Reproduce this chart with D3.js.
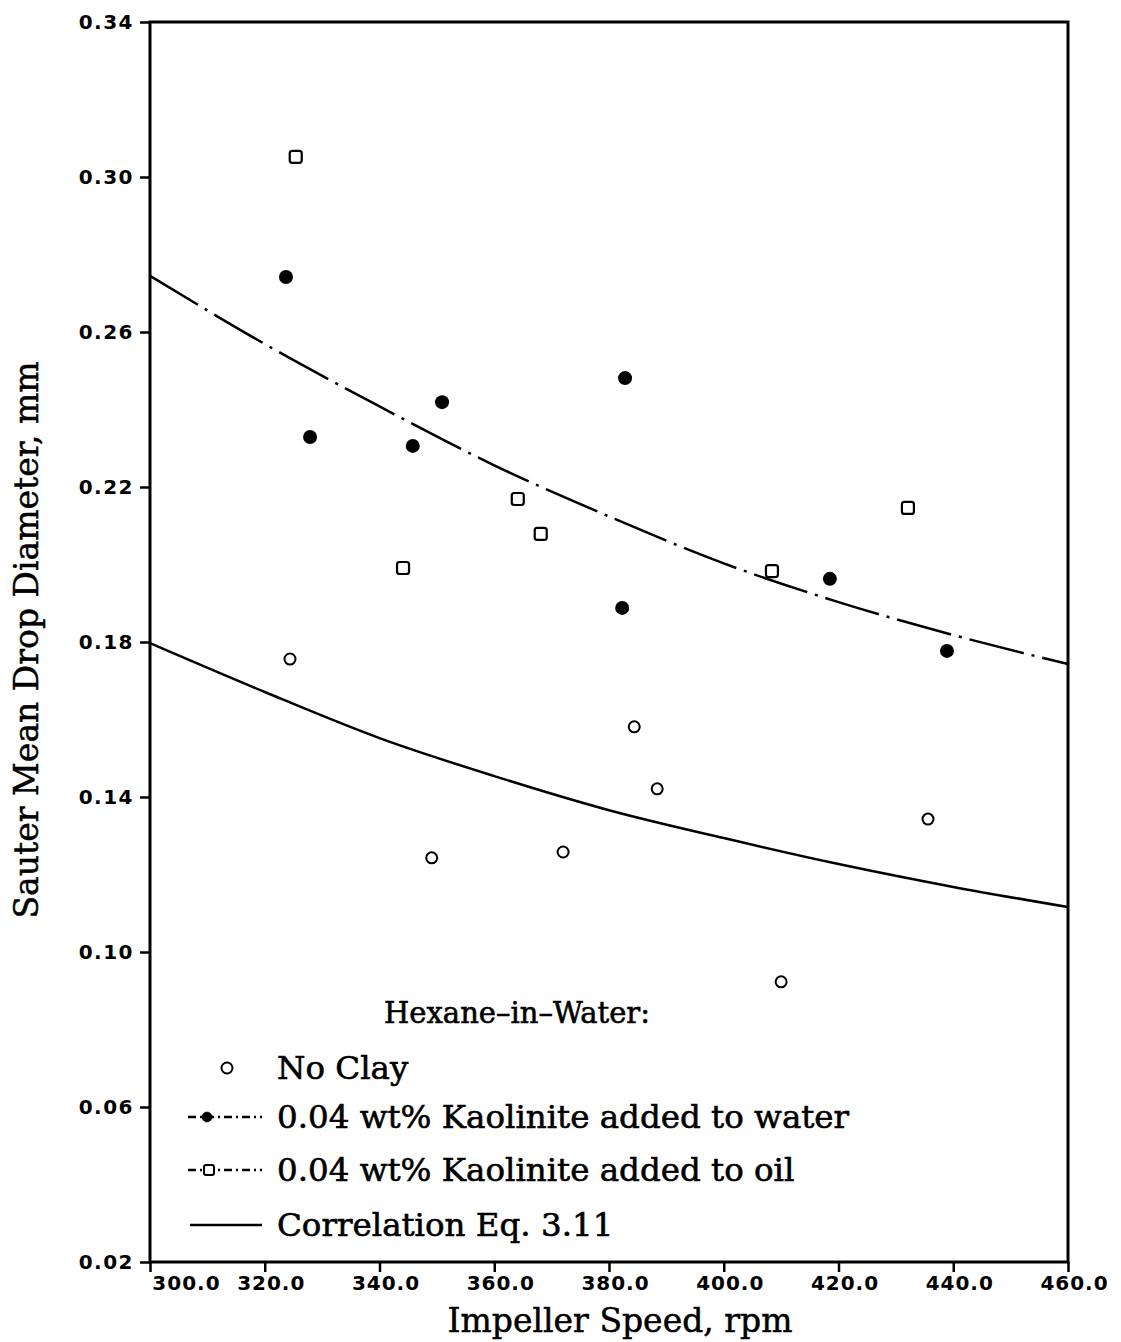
<!DOCTYPE html>
<html>
<head>
<meta charset="utf-8">
<script src="https://cdn.jsdelivr.net/npm/d3@7"></script>
<style>
  body { margin: 0; background: #fff; }
</style>
</head>
<body>
<div id="chart"></div>
<script>
// Values
const noClayRpm  = [324.4, 349.1, 372.0, 384.4, 388.4, 410.0, 435.6];
const noClayDiam = [0.1756, 0.1243, 0.1258, 0.1581, 0.1421, 0.0923, 0.1343];

const waterRpm  = [323.7, 327.9, 345.8, 350.9, 382.8, 382.3, 418.5, 438.9];
const waterDiam = [0.2742, 0.2329, 0.2306, 0.2419, 0.2481, 0.1888, 0.1963, 0.1777];

const oilRpm  = [325.4, 344.1, 364.1, 368.1, 408.4, 432.1];
const oilDiam = [0.3052, 0.1991, 0.2169, 0.2079, 0.1983, 0.2146];

// curves, read at every 20 rpm
const curveRpm     = [300, 320, 340, 360, 380, 400, 420, 440, 460];
const waterFitDiam = [0.2745, 0.2569, 0.2408, 0.2256, 0.2124, 0.2003, 0.1903, 0.1818, 0.1743];
const corrDiam     = [0.1797, 0.1671, 0.1552, 0.1454, 0.1366, 0.1294, 0.1227, 0.1168, 0.1116];

const xTicks = [300, 320, 340, 360, 380, 400, 420, 440, 460];
const yTicks = [0.02, 0.06, 0.10, 0.14, 0.18, 0.22, 0.26, 0.30, 0.34];

const legendLabels = [
  "No Clay",
  "0.04 wt% Kaolinite added to water",
  "0.04 wt% Kaolinite added to oil",
  "Correlation Eq. 3.11"
];

const W = 1121, H = 1342;
const plot = {left: 150, right: 1068, top: 22, bottom: 1262};

const svg = d3.select("#chart")
  .append("svg")
    .attr("width", W)
    .attr("height", H);

const x = d3.scaleLinear().domain([300, 460]).range([plot.left, plot.right]);
const y = d3.scaleLinear().domain([0.02, 0.34]).range([plot.bottom, plot.top]);

const tickFont = "'DejaVu Sans', sans-serif";
const serif = "'DejaVu Serif', serif";

// Y axis
const yAxis = svg.append("g")
    .attr("transform", `translate(${plot.left},0)`)
    .call(d3.axisLeft(y).tickValues(yTicks).tickFormat(d3.format(".2f")).tickSize(10).tickPadding(6));
yAxis.select(".domain").remove();
yAxis.selectAll("line").attr("stroke", "#000").attr("stroke-width", 2.5);
yAxis.selectAll("text")
    .style("font-family", tickFont)
    .style("font-weight", "bold")
    .style("font-size", "20px")
    .style("letter-spacing", "1.5px")
    .attr("fill", "#000");

// X axis
const xAxis = svg.append("g")
    .attr("transform", `translate(0,${plot.bottom})`)
    .call(d3.axisBottom(x).tickValues(xTicks).tickFormat(d3.format(".1f")).tickSize(10).tickPadding(4));
xAxis.select(".domain").remove();
xAxis.selectAll("line").attr("stroke", "#000").attr("stroke-width", 2.5);
xAxis.selectAll("text")
    .style("font-family", tickFont)
    .style("font-weight", "bold")
    .style("font-size", "20px")
    .style("letter-spacing", "1px")
    .attr("fill", "#000")
    .attr("dx", (d, i) => i === 0 ? 36 : 6);

// Frame
svg.append("rect")
    .attr("x", plot.left)
    .attr("y", plot.top)
    .attr("width", plot.right - plot.left)
    .attr("height", plot.bottom - plot.top)
    .attr("fill", "none")
    .attr("stroke", "#000")
    .attr("stroke-width", 3);

// Axis titles
svg.append("text")
    .attr("x", 620)
    .attr("y", 1332)
    .attr("text-anchor", "middle")
    .style("font-family", serif)
    .style("font-size", "33px")
    .attr("stroke", "#000")
    .attr("stroke-width", 0.5)
    .text("Impeller Speed, rpm");

svg.append("text")
    .attr("transform", "rotate(-90)")
    .attr("x", -640)
    .attr("y", 38)
    .attr("text-anchor", "middle")
    .style("font-family", serif)
    .style("font-size", "33px")
    .attr("stroke", "#000")
    .attr("stroke-width", 0.5)
    .text("Sauter Mean Drop Diameter, mm");

// Curves
const line = d3.line()
    .x(d => x(d[0]))
    .y(d => y(d[1]))
    .curve(d3.curveMonotoneX);

svg.append("path")
    .datum(curveRpm.map((r, i) => [r, waterFitDiam[i]]))
    .attr("d", line)
    .attr("fill", "none")
    .attr("stroke", "#000")
    .attr("stroke-width", 2.5)
    .attr("stroke-dasharray", "56,8,3,8");

svg.append("path")
    .datum(curveRpm.map((r, i) => [r, corrDiam[i]]))
    .attr("d", line)
    .attr("fill", "none")
    .attr("stroke", "#000")
    .attr("stroke-width", 2.5);

// Points
svg.append("g")
  .selectAll("circle")
  .data(noClayRpm.map((r, i) => [r, noClayDiam[i]]))
  .enter()
  .append("circle")
    .attr("cx", d => x(d[0]))
    .attr("cy", d => y(d[1]))
    .attr("r", 5.5)
    .attr("fill", "#fff")
    .attr("stroke", "#000")
    .attr("stroke-width", 2);

svg.append("g")
  .selectAll("circle")
  .data(waterRpm.map((r, i) => [r, waterDiam[i]]))
  .enter()
  .append("circle")
    .attr("cx", d => x(d[0]))
    .attr("cy", d => y(d[1]))
    .attr("r", 7)
    .attr("fill", "#000");

svg.append("g")
  .selectAll("rect")
  .data(oilRpm.map((r, i) => [r, oilDiam[i]]))
  .enter()
  .append("rect")
    .attr("x", d => x(d[0]) - 6)
    .attr("y", d => y(d[1]) - 6)
    .attr("width", 12)
    .attr("height", 12)
    .attr("rx", 2.5)
    .attr("fill", "#fff")
    .attr("stroke", "#000")
    .attr("stroke-width", 2.2);

// Legend
const legend = svg.append("g")
    .style("font-family", serif)
    .attr("stroke", "#000")
    .attr("stroke-width", 0.6);

legend.append("text")
    .attr("x", 517)
    .attr("y", 1023)
    .attr("text-anchor", "middle")
    .style("font-size", "29px")
    .text("Hexane\u2013in\u2013Water:");

const rowY = [1068, 1117, 1170, 1225];

legendLabels.forEach(function(label, i) {
  legend.append("text")
      .attr("x", 277)
      .attr("y", rowY[i])
      .attr("dy", "0.35em")
      .style("font-size", "32.5px")
      .text(label);
});

legend.append("circle")
    .attr("cx", 227).attr("cy", rowY[0]).attr("r", 5.5)
    .attr("fill", "#fff").attr("stroke", "#000").attr("stroke-width", 2);

legend.append("line")
    .attr("x1", 188).attr("x2", 262).attr("y1", rowY[1]).attr("y2", rowY[1])
    .attr("stroke", "#000").attr("stroke-width", 2.5)
    .attr("stroke-dasharray", "8,4,2,4");
legend.append("circle")
    .attr("cx", 207).attr("cy", rowY[1]).attr("r", 5)
    .attr("fill", "#000");

legend.append("line")
    .attr("x1", 188).attr("x2", 262).attr("y1", rowY[2]).attr("y2", rowY[2])
    .attr("stroke", "#000").attr("stroke-width", 2.5)
    .attr("stroke-dasharray", "8,4,2,4");
legend.append("rect")
    .attr("x", 204).attr("y", rowY[2] - 5).attr("width", 10).attr("height", 10).attr("rx", 2)
    .attr("fill", "#fff").attr("stroke", "#000").attr("stroke-width", 2);

legend.append("line")
    .attr("x1", 190).attr("x2", 262).attr("y1", rowY[3]).attr("y2", rowY[3])
    .attr("stroke", "#000").attr("stroke-width", 2.5);
</script>
</body>
</html>
